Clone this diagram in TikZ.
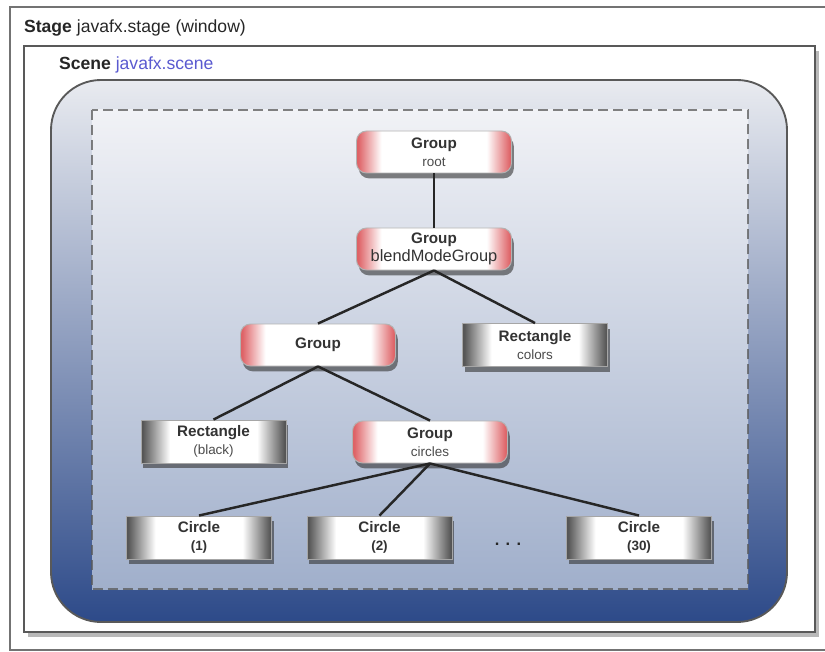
\documentclass[tikz,border=0pt]{standalone}
\usepackage{fontspec}
\setmainfont{Liberation Sans}
\usepackage{xcolor}
\usetikzlibrary{shadows}
\definecolor{grpred}{HTML}{DE6266}
\definecolor{rectgray}{HTML}{555555}
\definecolor{scenetop}{HTML}{E9EBF0}
\definecolor{scenemid}{HTML}{A5B2CB}
\definecolor{scenebot}{HTML}{2D4A89}
\definecolor{boxtop}{HTML}{F1F2F6}
\definecolor{boxbot}{HTML}{A0AFCB}
\definecolor{scenename}{HTML}{5A5AD0}
\definecolor{nodetext}{HTML}{333333}
\pgfdeclarehorizontalshading{groupshade}{100bp}{color(0bp)=(grpred); color(25.5bp)=(grpred); color(33bp)=(white); color(67bp)=(white); color(74.5bp)=(grpred); color(100bp)=(grpred)}
\pgfdeclarehorizontalshading{rectshade}{100bp}{color(0bp)=(rectgray); color(25.5bp)=(rectgray); color(35bp)=(white); color(65bp)=(white); color(74.5bp)=(rectgray); color(100bp)=(rectgray)}
\newcommand{\nsub}[1]{{\fontsize{11.5}{13}\selectfont\mdseries\color{black!70}#1}}

\begin{document}
\begin{tikzpicture}[x=0.3mm,y=-0.3mm,
  grp/.style={shading=groupshade,draw=black!30,line width=0.8pt,rounded corners=3mm,
    minimum width=46.5mm,minimum height=12.6mm,inner sep=0pt,align=center,
    text=nodetext,font=\fontsize{13}{15.5}\selectfont\bfseries,
    drop shadow={shadow xshift=0.7mm,shadow yshift=-1.6mm,opacity=0.6,fill=black!80}},
  leaf/.style={grp,shading=rectshade,draw=black!35,rounded corners=0pt,minimum width=43.5mm,minimum height=12.9mm},
  edge/.style={line width=2.1pt,draw=black!85}]
\useasboundingbox (0,0) rectangle (825,652);
\draw[black!55,line width=1.2pt] (10,7) rectangle (840,650);
\node[anchor=base west,text=black!85] (stagelbl) at (20,33) {\fontsize{15}{18}\selectfont\textbf{Stage} javafx.stage (window)};
\draw[fill=white,draw=black!65,line width=1.5pt,drop shadow={shadow xshift=1.2mm,shadow yshift=-1.5mm,opacity=0.55}] (24,46) rectangle (815,632);
\node[anchor=base west,text=black!85] (scenelbl) at (55,70) {\fontsize{15}{18}\selectfont\textbf{Scene} \textcolor{scenename}{javafx.scene}};
\draw[draw=black!65,line width=1.6pt,rounded corners=15mm,top color=scenetop,middle color=scenemid,bottom color=scenebot] (51,80) rectangle (787,622);
\draw[top color=boxtop,bottom color=boxbot,draw=black!65,draw opacity=0.75,line width=1.8pt,dash pattern=on 8.5pt off 4.3pt] (92,110) rectangle (748,589);

\node[grp] (root) at (434,152) {Group\\\nsub{root}};
\node[grp] (blend) at (434,249) {Group\\{\fontsize{14}{16}\selectfont\mdseries blendModeGroup}};
\node[grp] (group) at (318,345) {Group};
\node[leaf] (colors) at (535,345) {Rectangle\\\nsub{colors}};
\node[leaf] (black) at (213.5,441.5) {Rectangle\\\nsub{(black)}};
\node[grp] (circles) at (430,442) {Group\\\nsub{circles}};
\node[leaf] (c1) at (199,537.5) {Circle\\{\fontsize{11.5}{13}\selectfont (1)}};
\node[leaf] (c2) at (379.5,537.5) {Circle\\{\fontsize{11.5}{13}\selectfont (2)}};
\node[leaf] (c30) at (639,537.5) {Circle\\{\fontsize{11.5}{13}\selectfont (30)}};
\node[anchor=base,text=black!85,font=\bfseries\fontsize{14}{16}\selectfont] (dots) at (508,545) {.\hspace{1.9mm}.\hspace{1.9mm}.};

\draw[edge] (root) -- (blend);
\draw[edge] (blend.south) -- (group.north);
\draw[edge] (blend.south) -- (colors.north);
\draw[edge] (group.south) -- (black.north);
\draw[edge] (group.south) -- (circles.north);
\draw[edge] (circles.south) -- (c1.north);
\draw[edge] (circles.south) -- (c2.north);
\draw[edge] (circles.south) -- (c30.north);
\end{tikzpicture}
\end{document}
